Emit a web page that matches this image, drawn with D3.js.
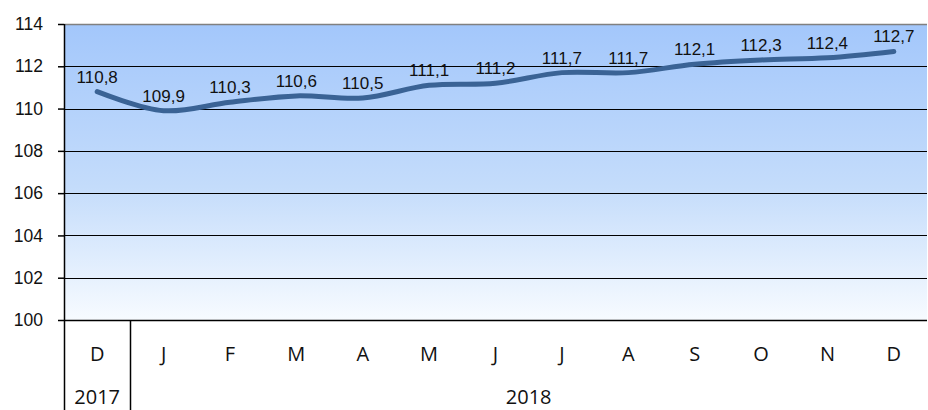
<!DOCTYPE html>
<html>
<head>
<meta charset="utf-8">
<script src="https://cdn.jsdelivr.net/npm/d3@7"></script>
<style>
  body { margin: 0; background: #fff; overflow: hidden; }
  svg { display: block; }
  .ytick text { font-family: "Liberation Sans", Arial, sans-serif; font-size: 17.5px; fill: #111; }
  .xlab { font-family: "Open Sans", "Noto Sans", sans-serif; font-size: 20px; fill: #111; }
  .vlab { font-family: "Liberation Sans", Arial, sans-serif; font-size: 17px; fill: #111; }
</style>
</head>
<body>
<div id="chart"></div>
<script>
// Chart data
const months = ["D", "J", "F", "M", "A", "M", "J", "J", "A", "S", "O", "N", "D"];
const years = ["2017", "2018"];
const yearSpan = [1, 12]; // number of months under each year
const values = [110.8, 109.9, 110.3, 110.6, 110.5, 111.1, 111.2, 111.7, 111.7, 112.1, 112.3, 112.4, 112.7];
const yTicks = [100, 102, 104, 106, 108, 110, 112, 114];

const width = 928, height = 410;
const margin = { top: 24, right: 1, bottom: 90, left: 64 };
const plotW = width - margin.left - margin.right;
const plotH = height - margin.top - margin.bottom;

let svg = d3.select("#chart").append("svg")
    .attr("width", width)
    .attr("height", height);

// Background gradient of the plot area
let defs = svg.append("defs");
let grad = defs.append("linearGradient")
    .attr("id", "bg")
    .attr("x1", 0).attr("y1", 0).attr("x2", 0).attr("y2", 1);
grad.append("stop").attr("offset", "0%").attr("stop-color", "#a3c7fb");
grad.append("stop").attr("offset", "55%").attr("stop-color", "#c4dcfb");
grad.append("stop").attr("offset", "100%").attr("stop-color", "#f7fbff");

let idx = months.map((d, i) => i);
var x = d3.scaleBand().domain(idx).range([0, plotW]);
var y = d3.scaleLinear().domain([100, 114]).range([plotH, 0]);

let g = svg.append("g").attr("transform", "translate(" + margin.left + "," + margin.top + ")");

g.append("rect")
    .attr("width", plotW)
    .attr("height", plotH)
    .attr("fill", "url(#bg)");

// Horizontal grid lines
g.selectAll(".grid")
    .data(yTicks.slice(1, -1))
    .join("line")
    .attr("class", "grid")
    .attr("x1", 0).attr("x2", plotW)
    .attr("y1", d => Math.round(y(d)) + 0.5)
    .attr("y2", d => Math.round(y(d)) + 0.5)
    .attr("stroke", "#000")
    .attr("stroke-width", 1);

// Top border (grey) and bottom axis line
g.append("line")
    .attr("x1", 0).attr("x2", plotW)
    .attr("y1", 0.5).attr("y2", 0.5)
    .attr("stroke", "#808080").attr("stroke-width", 1.5);
g.append("line")
    .attr("x1", 0).attr("x2", plotW)
    .attr("y1", plotH + 0.5).attr("y2", plotH + 0.5)
    .attr("stroke", "#000").attr("stroke-width", 1.5);

// Y axis
const yAxis = d3.axisLeft(y).tickValues(yTicks).tickSize(6).tickPadding(15).tickFormat(d3.format("d"));
let ya = g.append("g").attr("class", "ytick").call(yAxis);
ya.select(".domain").remove();
ya.selectAll("line").attr("stroke", "#000").attr("stroke-width", 1.5);

// Left axis line extends down through category area
g.append("line")
    .attr("x1", 0.5).attr("x2", 0.5)
    .attr("y1", 0).attr("y2", height - margin.top)
    .attr("stroke", "#000").attr("stroke-width", 1.5);

// Month labels
g.selectAll(".xlab.month")
    .data(months)
    .join("text")
    .attr("class", "xlab month")
    .attr("x", (d, i) => x(i) + x.bandwidth() / 2)
    .attr("y", plotH + 41)
    .attr("text-anchor", "middle")
    .text(d => d);

// Year labels and separators
let start = 0;
years.forEach((yr, k) => {
    const first = start, last = start + yearSpan[k] - 1;
    const cx = (x(first) + x(last) + x.bandwidth()) / 2;
    g.append("text")
        .attr("class", "xlab")
        .attr("x", cx)
        .attr("y", plotH + 84)
        .attr("text-anchor", "middle")
        .text(yr);
    if (k > 0) {
        g.append("line")
            .attr("x1", Math.round(x(first)) + 0.5).attr("x2", Math.round(x(first)) + 0.5)
            .attr("y1", plotH).attr("y2", height - margin.top)
            .attr("stroke", "#000").attr("stroke-width", 1.5);
    }
    start += yearSpan[k];
});

// Smoothed line
const line = d3.line()
    .x((d, i) => x(i) + x.bandwidth() / 2)
    .y(d => y(d))
    .curve(d3.curveCatmullRom.alpha(0.5));

g.append("path")
    .datum(values)
    .attr("d", line)
    .attr("fill", "none")
    .attr("stroke", "#3a6395")
    .attr("stroke-width", 5)
    .attr("stroke-linecap", "round");

// Value labels
g.selectAll(".vlab")
    .data(values)
    .join("text")
    .attr("class", "vlab")
    .attr("x", (d, i) => x(i) + x.bandwidth() / 2)
    .attr("y", d => y(d) - 9)
    .attr("text-anchor", "middle")
    .text(d => d3.format(".1f")(d).replace(".", ","));
</script>
</body>
</html>
